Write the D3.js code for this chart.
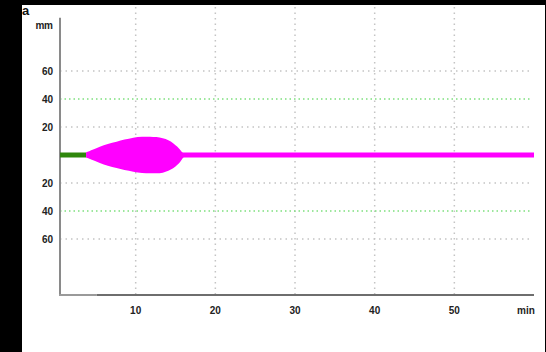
<!DOCTYPE html>
<html>
<head>
<meta charset="utf-8">
<script src="https://cdn.jsdelivr.net/npm/d3@7"></script>
<style>
  html, body { margin: 0; padding: 0; background: #000; }
  svg { display: block; }
  text { font-family: "Liberation Sans", Arial, sans-serif; }
</style>
</head>
<body>
<svg id="chart" width="546" height="352"></svg>
<script>
// Time axis (minutes) and amplitude axis (mm)
const xTicks = [10, 20, 30, 40, 50];
const yGridGray = [60, 20, -20, -60];
const yGridGreen = [40, -40];
const yTickLabels = [60, 40, 20, -20, -40, -60];

// Flat baseline before the burst (green), then the trace (magenta)
const baselineTimes = [0.5, 3.8];
const traceTimes = [3.8, 60];

// Envelope of the burst: time (min), upper and lower excursion (mm)
const burstTimes = [3.8, 4.5, 5.5, 6.5, 7.6, 8.6, 9.7, 10.8, 11.8, 12.6, 13.4, 14.1, 14.7, 15.2, 15.6, 15.9, 16.3];
const burstUpper = [1.8, 3.5, 5.9, 7.9, 9.5, 11.0, 12.4, 13.0, 13.1, 12.8, 11.9, 10.5, 8.4, 6.0, 3.6, 1.6, 0];
const burstLower = [1.8, 3.4, 5.7, 7.7, 9.3, 10.8, 11.9, 12.8, 13.1, 13.0, 12.6, 11.3, 9.5, 7.2, 4.8, 2.4, 0];

const svg = d3.select("#chart");

// white panel on black frame
svg.append("rect").attr("x", 22).attr("y", 5).attr("width", 523).attr("height", 347).attr("fill", "#fff");

const x = d3.scaleLinear().domain([0.5, 60]).range([60, 534]);
const y = d3.scaleLinear().domain([-100, 100]).range([295, 15]);

// vertical dotted grid
svg.append("g").selectAll("line").data(xTicks).join("line")
  .attr("x1", d => x(d)).attr("x2", d => x(d))
  .attr("y1", 7).attr("y2", y(-100))
  .attr("stroke", "#c4c4c4").attr("stroke-width", 1.5)
  .attr("stroke-dasharray", "1.5,4");

// horizontal dotted grid
svg.append("g").selectAll("line").data(yGridGray).join("line")
  .attr("x1", x(0.5)).attr("x2", 531)
  .attr("y1", d => y(d)).attr("y2", d => y(d))
  .attr("stroke", "#c4c4c4").attr("stroke-width", 1.5)
  .attr("stroke-dasharray", "1.5,4");
svg.append("g").selectAll("line").data(yGridGreen).join("line")
  .attr("x1", x(0.5)).attr("x2", 531)
  .attr("y1", d => y(d)).attr("y2", d => y(d))
  .attr("stroke", "#7ee07e").attr("stroke-width", 1.5)
  .attr("stroke-dasharray", "1.5,3");

// axes lines
svg.append("line")
  .attr("x1", x(0.5)).attr("x2", x(0.5))
  .attr("y1", y(98)).attr("y2", y(-100))
  .attr("stroke", "#8a8a8a").attr("stroke-width", 2);
svg.append("line")
  .attr("x1", x(0.5) - 1).attr("x2", x(5.1))
  .attr("y1", y(-100)).attr("y2", y(-100))
  .attr("stroke", "#9a9a9a").attr("stroke-width", 2);
svg.append("line")
  .attr("x1", x(5.1)).attr("x2", x(60))
  .attr("y1", y(-100)).attr("y2", y(-100))
  .attr("stroke", "#6e6e6e").attr("stroke-width", 2);

// tick labels
svg.append("g").selectAll("text").data(xTicks).join("text")
  .attr("x", d => x(d)).attr("y", 314)
  .attr("text-anchor", "middle")
  .attr("font-size", 10).attr("font-weight", "bold").attr("fill", "#222")
  .text(d => d);
svg.append("g").selectAll("text").data(yTickLabels).join("text")
  .attr("x", 53).attr("y", d => y(d) + 3.5)
  .attr("text-anchor", "end")
  .attr("font-size", 10).attr("font-weight", "bold").attr("fill", "#222")
  .text(d => Math.abs(d));

svg.append("text").attr("x", 526).attr("y", 314).attr("text-anchor", "middle")
  .attr("font-size", 10).attr("font-weight", "bold").attr("fill", "#222").text("min");
svg.append("text").attr("x", 44).attr("y", 29).attr("text-anchor", "middle")
  .attr("font-size", 10).attr("font-weight", "bold").attr("fill", "#222")
  .attr("letter-spacing", -0.5).text("mm");
svg.append("text").attr("x", 22).attr("y", 15)
  .attr("font-size", 13).attr("font-weight", "bold").attr("fill", "#111").text("a");

// baseline trace
const line = d3.line().x(d => x(d)).y(() => y(0));
svg.append("path").datum(baselineTimes).attr("d", line)
  .attr("fill", "none").attr("stroke", "#2f870c").attr("stroke-width", 5);

// magenta trace
svg.append("path").datum(traceTimes).attr("d", line)
  .attr("fill", "none").attr("stroke", "#ff00ff").attr("stroke-width", 5);

// burst envelope
const burst = burstTimes.map((t, i) => ({ t, hi: burstUpper[i], lo: burstLower[i] }));
const area = d3.area()
  .x(d => x(d.t))
  .y0(d => y(-d.lo))
  .y1(d => y(d.hi))
  .curve(d3.curveCatmullRom);
svg.append("path").datum(burst).attr("d", area).attr("fill", "#ff00ff");
</script>
</body>
</html>
